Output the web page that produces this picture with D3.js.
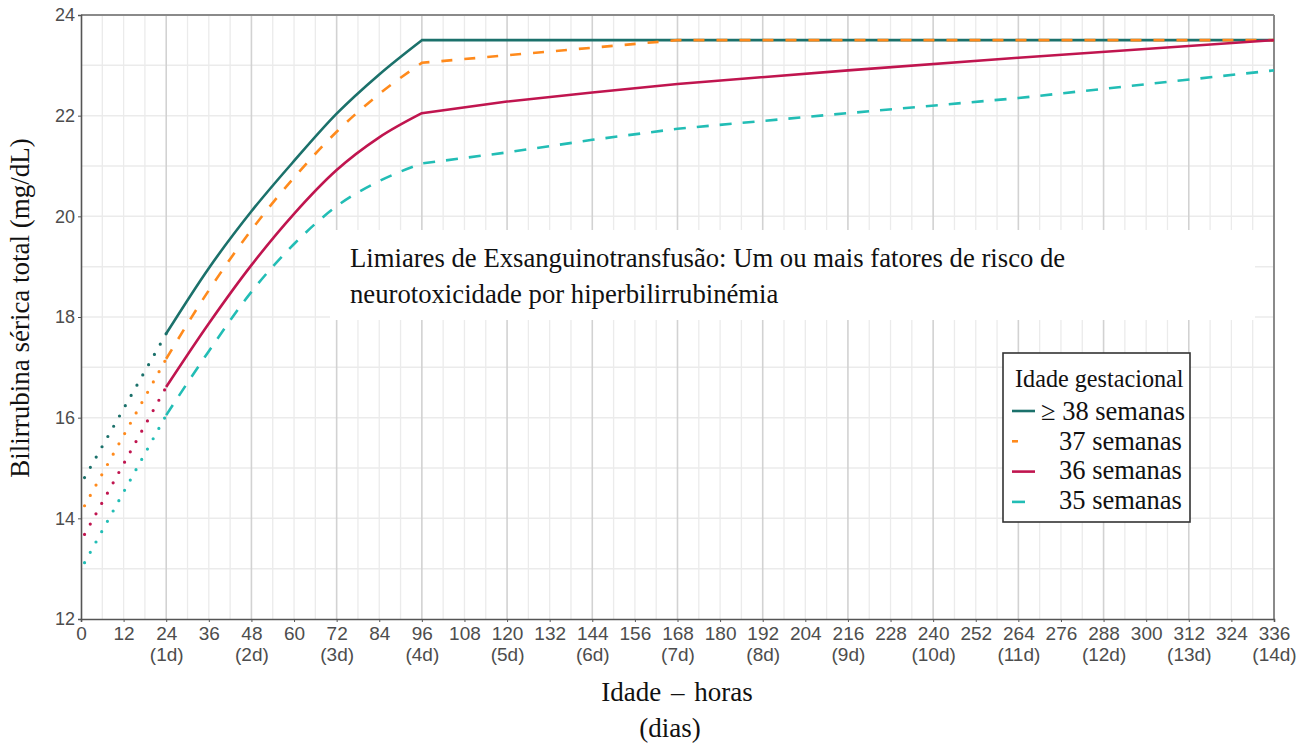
<!DOCTYPE html>
<meta charset="utf-8">
<style>
  body { margin: 0; background: #fff; }
  .tick-lab { font-family: "Liberation Sans", Arial, sans-serif; font-size: 19px; fill: #4d4d4d; }
  .serif { font-family: "Liberation Serif", "Times New Roman", serif; fill: #111; }
</style>
<body>
<script src="https://cdn.jsdelivr.net/npm/d3@7"></script>
<script>

// hours on the curve, solid / dashed part (from 24 h)
var hours = [24, 36, 48, 60, 72, 84, 96, 120, 144, 168, 216, 264, 336];
var ge38 = [17.67, 18.97, 20.1, 21.1, 22.04, 22.82, 23.5, 23.5, 23.5, 23.5, 23.5, 23.5, 23.5];
var ge37 = [17.17, 18.53, 19.73, 20.77, 21.68, 22.43, 23.05, 23.2, 23.35, 23.5, 23.5, 23.5, 23.5];
var ge36 = [16.61, 17.87, 19.03, 20.05, 20.92, 21.57, 22.05, 22.28, 22.46, 22.63, 22.9, 23.15, 23.5];
var ge35 = [16.05, 17.32, 18.5, 19.45, 20.2, 20.7, 21.05, 21.27, 21.52, 21.74, 22.05, 22.35, 22.9];

// dotted part before 24 h
var dotHours = [1, 24];
var dot38 = [14.81, 17.67];
var dot37 = [14.25, 17.17];
var dot36 = [13.68, 16.61];
var dot35 = [13.12, 16.05];

var seriesNames = ["\u2265 38 semanas", "37 semanas", "36 semanas", "35 semanas"];
var xTicks = d3.range(0, 337, 12);
var yTicks = [12, 14, 16, 18, 20, 22, 24];

var width = 1312,
    height = 746;

// plot edges (named so they do not clash with window.top)
var pLeft = 81, pRight = 1274, pTop = 15, pBottom = 619;

var svg = d3.select("body").append("svg")
    .attr("width", width)
    .attr("height", height);

var x = d3.scaleLinear().domain([0, 336]).range([pLeft, pRight]);
var y = d3.scaleLinear().domain([12, 24]).range([pBottom, pTop]);

var colors = ["#1b716b", "#ff8a1c", "#c0154f", "#22bdb5"];
var dashes = [null, "11,12", null, "12,11"];
var solidVals = [ge38, ge37, ge36, ge35];
var dotVals = [dot38, dot37, dot36, dot35];

// GRID
var grid = svg.append("g");
grid.selectAll(".hg")
    .data(d3.range(13, 24))
    .enter().append("line")
    .attr("x1", pLeft).attr("x2", pRight)
    .attr("y1", function(d) { return y(d); })
    .attr("y2", function(d) { return y(d); })
    .attr("stroke", "#ebebeb")
    .attr("stroke-width", 1.5);

grid.selectAll(".vg")
    .data(d3.range(6, 336, 6))
    .enter().append("line")
    .attr("y1", pTop).attr("y2", pBottom)
    .attr("x1", function(d) { return x(d); })
    .attr("x2", function(d) { return x(d); })
    .attr("stroke", function(d) { return d % 24 == 0 ? "#d2d2d2" : "#ebebeb"; })
    .attr("stroke-width", function(d) { return d % 24 == 0 ? 1.6 : 1.3; });

// white box behind the annotation
svg.append("rect")
    .attr("x", 330).attr("y", 230)
    .attr("width", 925).attr("height", 90)
    .attr("fill", "#fff");

// border
svg.append("line").attr("x1", pLeft).attr("x2", pRight).attr("y1", pTop).attr("y2", pTop)
    .attr("stroke", "#8a8a8a").attr("stroke-width", 2);
svg.append("line").attr("x1", pRight).attr("x2", pRight).attr("y1", pTop).attr("y2", pBottom)
    .attr("stroke", "#8a8a8a").attr("stroke-width", 2);

// AXES
var xAxis = svg.append("g")
    .attr("transform", "translate(0," + pBottom + ")")
    .call(d3.axisBottom(x).tickValues(xTicks).tickSize(3).tickPadding(5).tickFormat(d3.format("d")));
xAxis.select(".domain").attr("stroke", "#555").attr("stroke-width", 1.6);
xAxis.selectAll(".tick line").attr("stroke", "#555");
xAxis.selectAll("text").attr("class", "tick-lab").attr("fill", null);
xAxis.attr("font-size", null).attr("font-family", null);

// day labels under every 24 h
xAxis.selectAll(".tick")
    .filter(function(d) { return d > 0 && d % 24 == 0; })
    .append("text")
    .attr("class", "tick-lab")
    .attr("y", 42)
    .attr("text-anchor", "middle")
    .text(function(d) { return "(" + (d / 24) + "d)"; });

var yAxis = svg.append("g")
    .attr("transform", "translate(" + pLeft + ",0)")
    .call(d3.axisLeft(y).tickValues(yTicks).tickSize(3).tickPadding(3));
yAxis.select(".domain").attr("stroke", "#555").attr("stroke-width", 1.6);
yAxis.selectAll(".tick line").attr("stroke", "#555");
yAxis.selectAll("text").attr("class", "tick-lab").attr("fill", null)
    .style("font-size", "18px");
yAxis.attr("font-size", null).attr("font-family", null);

// CURVES
var rise = d3.line()
    .x(function(d) { return x(d[0]); })
    .y(function(d) { return y(d[1]); })
    .curve(d3.curveMonotoneX);
var flat = d3.line()
    .x(function(d) { return x(d[0]); })
    .y(function(d) { return y(d[1]); });

solidVals.forEach(function(vals, i) {
    var pts = hours.map(function(h, j) { return [h, vals[j]]; });
    var first = pts.filter(function(p) { return p[0] <= 96; });
    var rest = pts.filter(function(p) { return p[0] >= 96; });
    var d = rise(first) + flat(rest).replace(/^M/, "L");
    svg.append("path")
        .attr("d", d)
        .attr("fill", "none")
        .attr("stroke", colors[i])
        .attr("stroke-width", 2.6)
        .attr("stroke-dasharray", dashes[i]);

    var dp = dotHours.map(function(h, j) { return [h, dotVals[i][j]]; });
    svg.append("path")
        .attr("d", flat(dp))
        .attr("fill", "none")
        .attr("stroke", colors[i])
        .attr("stroke-width", 3.2)
        .attr("stroke-linecap", "round")
        .attr("stroke-dasharray", "0,11.8");
});

// ANNOTATION
var note = svg.append("text").attr("class", "serif").attr("font-size", 26.7);
note.append("tspan").attr("x", 350).attr("y", 267)
    .text("Limiares de Exsanguinotransfus\u00e3o: Um ou mais fatores de risco de");
note.append("tspan").attr("x", 350).attr("y", 303)
    .text("neurotoxicidade por hiperbilirrubin\u00e9mia");

// AXIS TITLES
svg.append("text").attr("class", "serif").attr("font-size", 27)
    .attr("text-anchor", "middle")
    .attr("transform", "translate(29,308) rotate(-90)")
    .text("Bilirrubina s\u00e9rica total (mg/dL)");
svg.append("text").attr("class", "serif").attr("font-size", 27)
    .attr("text-anchor", "middle")
    .attr("word-spacing", 3)
    .attr("x", 677).attr("y", 701)
    .text("Idade \u2013 horas");
svg.append("text").attr("class", "serif").attr("font-size", 27)
    .attr("text-anchor", "middle")
    .attr("x", 670).attr("y", 737)
    .text("(dias)");

// LEGEND
var lg = svg.append("g");
lg.append("rect")
    .attr("x", 1003).attr("y", 353)
    .attr("width", 187).attr("height", 169)
    .attr("fill", "#fff")
    .attr("stroke", "#333")
    .attr("stroke-width", 1.6);
lg.append("text").attr("class", "serif").attr("font-size", 24.2)
    .attr("x", 1015).attr("y", 387)
    .text("Idade gestacional");

var keyEnd = [1035, 1018, 1035, 1025];
seriesNames.forEach(function(name, i) {
    var ky = 411 + i * 30.3;
    lg.append("line")
        .attr("x1", 1012).attr("x2", keyEnd[i])
        .attr("y1", ky).attr("y2", ky)
        .attr("stroke", colors[i])
        .attr("stroke-width", 2.6);
    lg.append("text").attr("class", "serif").attr("font-size", 26.5)
        .attr("x", i == 0 ? 1041 : 1059)
        .attr("y", 420 + i * 29.7)
        .text(name);
});

</script>
</body>
